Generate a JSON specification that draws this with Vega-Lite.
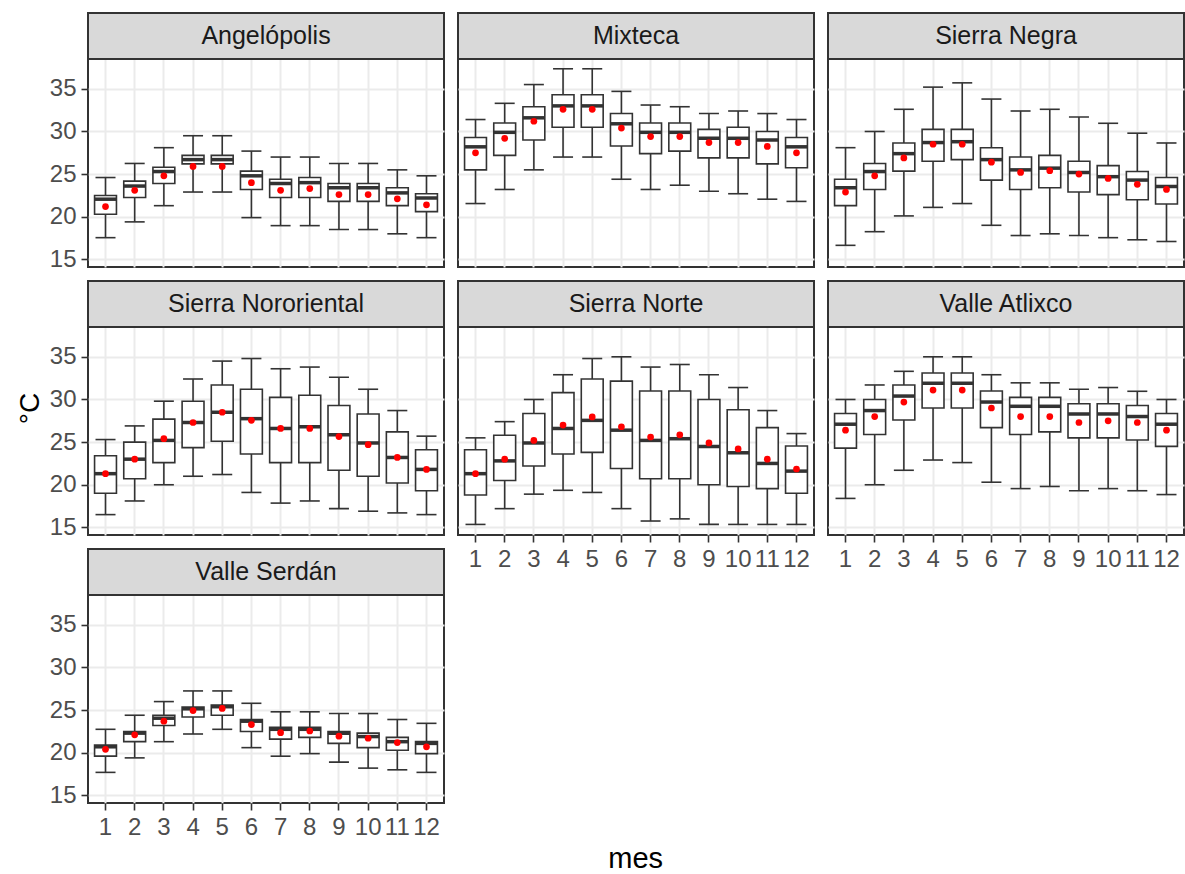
{
  "$schema": "https://vega.github.io/schema/vega-lite/v6.json",
  "padding": {"left": 15, "top": 11, "right": 0, "bottom": 0},
  "background": "white",
  "title": {"text": "mes", "orient": "bottom", "anchor": "middle", "frame": "bounds", "dx": 35, "fontSize": 29, "fontWeight": "normal", "font": "Liberation Sans", "color": "#000000", "offset": 5},
  "data": {"values": [
    {"region": "Angelópolis", "mes": 1, "min": 17.55, "q1": 20.3, "mediana": 22.06, "q3": 22.5, "max": 24.6, "media": 21.2},
    {"region": "Angelópolis", "mes": 2, "min": 19.4, "q1": 22.25, "mediana": 23.6, "q3": 24.18, "max": 26.25, "media": 23.1},
    {"region": "Angelópolis", "mes": 3, "min": 21.3, "q1": 23.9, "mediana": 25.3, "q3": 25.8, "max": 28.1, "media": 24.8},
    {"region": "Angelópolis", "mes": 4, "min": 22.9, "q1": 26.2, "mediana": 26.7, "q3": 27.2, "max": 29.5, "media": 25.9},
    {"region": "Angelópolis", "mes": 5, "min": 22.9, "q1": 26.2, "mediana": 26.7, "q3": 27.2, "max": 29.5, "media": 25.9},
    {"region": "Angelópolis", "mes": 6, "min": 19.9, "q1": 23.2, "mediana": 24.8, "q3": 25.35, "max": 27.7, "media": 24.0},
    {"region": "Angelópolis", "mes": 7, "min": 18.96, "q1": 22.25, "mediana": 23.9, "q3": 24.4, "max": 27.0, "media": 23.1},
    {"region": "Angelópolis", "mes": 8, "min": 18.96, "q1": 22.25, "mediana": 24.0, "q3": 24.6, "max": 27.0, "media": 23.3},
    {"region": "Angelópolis", "mes": 9, "min": 18.5, "q1": 21.8, "mediana": 23.4, "q3": 23.9, "max": 26.25, "media": 22.6},
    {"region": "Angelópolis", "mes": 10, "min": 18.5, "q1": 21.8, "mediana": 23.4, "q3": 23.9, "max": 26.25, "media": 22.6},
    {"region": "Angelópolis", "mes": 11, "min": 18.0, "q1": 21.3, "mediana": 22.8, "q3": 23.4, "max": 25.5, "media": 22.1},
    {"region": "Angelópolis", "mes": 12, "min": 17.55, "q1": 20.6, "mediana": 22.2, "q3": 22.7, "max": 24.8, "media": 21.4},
    {"region": "Mixteca", "mes": 1, "min": 21.55, "q1": 25.5, "mediana": 28.2, "q3": 29.3, "max": 31.4, "media": 27.5},
    {"region": "Mixteca", "mes": 2, "min": 23.2, "q1": 27.2, "mediana": 29.9, "q3": 31.0, "max": 33.3, "media": 29.2},
    {"region": "Mixteca", "mes": 3, "min": 25.5, "q1": 29.0, "mediana": 31.6, "q3": 32.9, "max": 35.5, "media": 31.2},
    {"region": "Mixteca", "mes": 4, "min": 27.0, "q1": 30.5, "mediana": 33.0, "q3": 34.3, "max": 37.35, "media": 32.6},
    {"region": "Mixteca", "mes": 5, "min": 27.0, "q1": 30.5, "mediana": 33.0, "q3": 34.3, "max": 37.35, "media": 32.6},
    {"region": "Mixteca", "mes": 6, "min": 24.4, "q1": 28.3, "mediana": 30.9, "q3": 32.1, "max": 34.7, "media": 30.4},
    {"region": "Mixteca", "mes": 7, "min": 23.2, "q1": 27.4, "mediana": 29.9, "q3": 31.0, "max": 33.1, "media": 29.4},
    {"region": "Mixteca", "mes": 8, "min": 23.7, "q1": 27.7, "mediana": 29.9, "q3": 31.0, "max": 32.9, "media": 29.4},
    {"region": "Mixteca", "mes": 9, "min": 23.0, "q1": 26.9, "mediana": 29.2, "q3": 30.25, "max": 32.1, "media": 28.7},
    {"region": "Mixteca", "mes": 10, "min": 22.7, "q1": 26.9, "mediana": 29.2, "q3": 30.5, "max": 32.4, "media": 28.7},
    {"region": "Mixteca", "mes": 11, "min": 22.06, "q1": 26.2, "mediana": 29.0, "q3": 30.0, "max": 32.1, "media": 28.25},
    {"region": "Mixteca", "mes": 12, "min": 21.8, "q1": 25.75, "mediana": 28.2, "q3": 29.3, "max": 31.4, "media": 27.5},
    {"region": "Sierra Negra", "mes": 1, "min": 16.65, "q1": 21.3, "mediana": 23.4, "q3": 24.4, "max": 28.1, "media": 22.9},
    {"region": "Sierra Negra", "mes": 2, "min": 18.25, "q1": 23.2, "mediana": 25.3, "q3": 26.25, "max": 30.0, "media": 24.8},
    {"region": "Sierra Negra", "mes": 3, "min": 20.1, "q1": 25.35, "mediana": 27.4, "q3": 28.65, "max": 32.6, "media": 26.9},
    {"region": "Sierra Negra", "mes": 4, "min": 21.1, "q1": 26.5, "mediana": 28.7, "q3": 30.25, "max": 35.2, "media": 28.5},
    {"region": "Sierra Negra", "mes": 5, "min": 21.55, "q1": 26.7, "mediana": 28.8, "q3": 30.25, "max": 35.7, "media": 28.5},
    {"region": "Sierra Negra", "mes": 6, "min": 19.0, "q1": 24.3, "mediana": 26.7, "q3": 28.1, "max": 33.8, "media": 26.4},
    {"region": "Sierra Negra", "mes": 7, "min": 17.8, "q1": 23.2, "mediana": 25.5, "q3": 27.0, "max": 32.4, "media": 25.2},
    {"region": "Sierra Negra", "mes": 8, "min": 18.0, "q1": 23.4, "mediana": 25.7, "q3": 27.2, "max": 32.6, "media": 25.4},
    {"region": "Sierra Negra", "mes": 9, "min": 17.8, "q1": 22.9, "mediana": 25.2, "q3": 26.5, "max": 31.7, "media": 25.0},
    {"region": "Sierra Negra", "mes": 10, "min": 17.55, "q1": 22.6, "mediana": 24.7, "q3": 26.0, "max": 30.96, "media": 24.5},
    {"region": "Sierra Negra", "mes": 11, "min": 17.3, "q1": 22.0, "mediana": 24.3, "q3": 25.3, "max": 29.8, "media": 23.8},
    {"region": "Sierra Negra", "mes": 12, "min": 17.1, "q1": 21.5, "mediana": 23.55, "q3": 24.6, "max": 28.65, "media": 23.2},
    {"region": "Sierra Nororiental", "mes": 1, "min": 16.5, "q1": 19.0, "mediana": 21.3, "q3": 23.4, "max": 25.3, "media": 21.3},
    {"region": "Sierra Nororiental", "mes": 2, "min": 18.1, "q1": 20.7, "mediana": 23.0, "q3": 25.0, "max": 26.9, "media": 23.0},
    {"region": "Sierra Nororiental", "mes": 3, "min": 20.0, "q1": 22.6, "mediana": 25.2, "q3": 27.7, "max": 29.8, "media": 25.4},
    {"region": "Sierra Nororiental", "mes": 4, "min": 21.0, "q1": 24.35, "mediana": 27.3, "q3": 29.8, "max": 32.4, "media": 27.3},
    {"region": "Sierra Nororiental", "mes": 5, "min": 21.2, "q1": 25.1, "mediana": 28.5, "q3": 31.7, "max": 34.5, "media": 28.5},
    {"region": "Sierra Nororiental", "mes": 6, "min": 19.1, "q1": 23.6, "mediana": 27.75, "q3": 31.2, "max": 34.8, "media": 27.55},
    {"region": "Sierra Nororiental", "mes": 7, "min": 17.85, "q1": 22.6, "mediana": 26.6, "q3": 30.25, "max": 33.6, "media": 26.6},
    {"region": "Sierra Nororiental", "mes": 8, "min": 18.1, "q1": 22.6, "mediana": 26.8, "q3": 30.5, "max": 33.8, "media": 26.6},
    {"region": "Sierra Nororiental", "mes": 9, "min": 17.2, "q1": 21.7, "mediana": 25.85, "q3": 29.3, "max": 32.6, "media": 25.65},
    {"region": "Sierra Nororiental", "mes": 10, "min": 16.9, "q1": 21.0, "mediana": 24.9, "q3": 28.3, "max": 31.2, "media": 24.7},
    {"region": "Sierra Nororiental", "mes": 11, "min": 16.7, "q1": 20.2, "mediana": 23.2, "q3": 26.2, "max": 28.7, "media": 23.2},
    {"region": "Sierra Nororiental", "mes": 12, "min": 16.5, "q1": 19.3, "mediana": 21.8, "q3": 24.1, "max": 25.7, "media": 21.8},
    {"region": "Sierra Norte", "mes": 1, "min": 15.35, "q1": 18.8, "mediana": 21.3, "q3": 24.1, "max": 25.5, "media": 21.3},
    {"region": "Sierra Norte", "mes": 2, "min": 17.2, "q1": 20.5, "mediana": 22.8, "q3": 25.8, "max": 27.4, "media": 23.0},
    {"region": "Sierra Norte", "mes": 3, "min": 18.9, "q1": 22.2, "mediana": 24.9, "q3": 28.35, "max": 30.0, "media": 25.2},
    {"region": "Sierra Norte", "mes": 4, "min": 19.35, "q1": 23.6, "mediana": 26.6, "q3": 30.8, "max": 32.9, "media": 27.0},
    {"region": "Sierra Norte", "mes": 5, "min": 19.1, "q1": 23.8, "mediana": 27.55, "q3": 32.4, "max": 34.8, "media": 27.95},
    {"region": "Sierra Norte", "mes": 6, "min": 17.2, "q1": 21.9, "mediana": 26.4, "q3": 32.15, "max": 35.0, "media": 26.8},
    {"region": "Sierra Norte", "mes": 7, "min": 15.75, "q1": 20.7, "mediana": 25.2, "q3": 31.0, "max": 33.8, "media": 25.6},
    {"region": "Sierra Norte", "mes": 8, "min": 16.0, "q1": 20.7, "mediana": 25.4, "q3": 31.0, "max": 34.1, "media": 25.85},
    {"region": "Sierra Norte", "mes": 9, "min": 15.35, "q1": 20.0, "mediana": 24.5, "q3": 30.0, "max": 32.9, "media": 24.9},
    {"region": "Sierra Norte", "mes": 10, "min": 15.35, "q1": 19.8, "mediana": 23.75, "q3": 28.8, "max": 31.4, "media": 24.2},
    {"region": "Sierra Norte", "mes": 11, "min": 15.35, "q1": 19.55, "mediana": 22.5, "q3": 26.7, "max": 28.7, "media": 23.0},
    {"region": "Sierra Norte", "mes": 12, "min": 15.35, "q1": 19.0, "mediana": 21.6, "q3": 24.55, "max": 26.0, "media": 21.85},
    {"region": "Valle Atlixco", "mes": 1, "min": 18.4, "q1": 24.3, "mediana": 27.1, "q3": 28.35, "max": 30.0, "media": 26.4},
    {"region": "Valle Atlixco", "mes": 2, "min": 20.0, "q1": 25.9, "mediana": 28.7, "q3": 30.0, "max": 31.7, "media": 28.0},
    {"region": "Valle Atlixco", "mes": 3, "min": 21.7, "q1": 27.6, "mediana": 30.4, "q3": 31.7, "max": 33.3, "media": 29.7},
    {"region": "Valle Atlixco", "mes": 4, "min": 22.9, "q1": 29.0, "mediana": 31.9, "q3": 33.1, "max": 35.0, "media": 31.1},
    {"region": "Valle Atlixco", "mes": 5, "min": 22.6, "q1": 29.0, "mediana": 31.9, "q3": 33.1, "max": 35.0, "media": 31.1},
    {"region": "Valle Atlixco", "mes": 6, "min": 20.3, "q1": 26.7, "mediana": 29.7, "q3": 31.0, "max": 32.9, "media": 29.0},
    {"region": "Valle Atlixco", "mes": 7, "min": 19.55, "q1": 25.9, "mediana": 29.2, "q3": 30.25, "max": 31.95, "media": 28.0},
    {"region": "Valle Atlixco", "mes": 8, "min": 19.8, "q1": 26.2, "mediana": 29.2, "q3": 30.25, "max": 31.95, "media": 28.0},
    {"region": "Valle Atlixco", "mes": 9, "min": 19.3, "q1": 25.5, "mediana": 28.3, "q3": 29.5, "max": 31.2, "media": 27.3},
    {"region": "Valle Atlixco", "mes": 10, "min": 19.55, "q1": 25.5, "mediana": 28.3, "q3": 29.5, "max": 31.4, "media": 27.5},
    {"region": "Valle Atlixco", "mes": 11, "min": 19.3, "q1": 25.25, "mediana": 28.0, "q3": 29.3, "max": 30.96, "media": 27.3},
    {"region": "Valle Atlixco", "mes": 12, "min": 18.85, "q1": 24.5, "mediana": 27.1, "q3": 28.35, "max": 30.0, "media": 26.4},
    {"region": "Valle Serdán", "mes": 1, "min": 17.7, "q1": 19.6, "mediana": 20.7, "q3": 20.9, "max": 22.75, "media": 20.4},
    {"region": "Valle Serdán", "mes": 2, "min": 19.4, "q1": 21.3, "mediana": 22.3, "q3": 22.5, "max": 24.4, "media": 22.1},
    {"region": "Valle Serdán", "mes": 3, "min": 21.3, "q1": 23.2, "mediana": 24.05, "q3": 24.4, "max": 26.0, "media": 23.7},
    {"region": "Valle Serdán", "mes": 4, "min": 22.2, "q1": 24.2, "mediana": 25.15, "q3": 25.35, "max": 27.25, "media": 24.95},
    {"region": "Valle Serdán", "mes": 5, "min": 22.75, "q1": 24.4, "mediana": 25.4, "q3": 25.6, "max": 27.25, "media": 25.2},
    {"region": "Valle Serdán", "mes": 6, "min": 20.6, "q1": 22.5, "mediana": 23.7, "q3": 23.9, "max": 25.8, "media": 23.3},
    {"region": "Valle Serdán", "mes": 7, "min": 19.6, "q1": 21.6, "mediana": 22.75, "q3": 23.0, "max": 24.8, "media": 22.35},
    {"region": "Valle Serdán", "mes": 8, "min": 19.9, "q1": 21.8, "mediana": 22.75, "q3": 23.0, "max": 24.8, "media": 22.55},
    {"region": "Valle Serdán", "mes": 9, "min": 18.9, "q1": 21.1, "mediana": 22.3, "q3": 22.5, "max": 24.6, "media": 21.95},
    {"region": "Valle Serdán", "mes": 10, "min": 18.2, "q1": 20.6, "mediana": 21.9, "q3": 22.3, "max": 24.6, "media": 21.7},
    {"region": "Valle Serdán", "mes": 11, "min": 18.0, "q1": 20.3, "mediana": 21.3, "q3": 21.8, "max": 23.9, "media": 21.2},
    {"region": "Valle Serdán", "mes": 12, "min": 17.7, "q1": 19.9, "mediana": 21.1, "q3": 21.3, "max": 23.45, "media": 20.7}
  ]},
  "columns": 3,
  "spacing": {"row": 14, "column": 14},
  "bounds": "flush",
  "align": "all",
  "concat": [
    {
      "width": 356, "height": 254,
      "transform": [{"filter": "datum.region == 'Angelópolis'"}],
      "layer": [
        {"transform": [{"filter": "datum.mes == 1"}], "mark": {"type": "rect", "fill": "#D9D9D9", "stroke": "#333333", "strokeWidth": 2}, "encoding": {"y": {"datum": 38.49, "type": "quantitative"}, "y2": {"datum": 43.89}}},
        {"transform": [{"filter": "datum.mes == 1"}], "mark": {"type": "text", "fontSize": 25, "color": "#1A1A1A", "baseline": "middle", "align": "center"}, "encoding": {"text": {"field": "region"}, "y": {"datum": 41.15, "type": "quantitative"}}},
        {"mark": {"type": "rule", "color": "#333333", "strokeWidth": 1.6},
         "encoding": {
           "x": {"field": "mes", "type": "ordinal", "title": null, "scale": {"paddingInner": 0, "paddingOuter": 0.1}, "axis": {"labels": false, "ticks": false}},
           "y": {"field": "min", "type": "quantitative", "title": null, "scale": {"domain": [14.11, 43.89], "nice": false, "zero": false},
                 "axis": {"values": [15, 17.5, 20, 22.5, 25, 27.5, 30, 32.5, 35, 37.5], "labelExpr": "datum.value % 5 === 0 ? format(datum.value, 'd') : ''", "tickSize": {"condition": {"test": "datum.value % 5 !== 0", "value": 0}, "value": 7}, "gridWidth": {"condition": {"test": "datum.value % 5 !== 0", "value": 1}, "value": 2}}},
           "y2": {"field": "max"}}},
        {"mark": {"type": "tick", "color": "#333333", "opacity": 1, "size": 20, "thickness": 1.6}, "encoding": {"x": {"field": "mes", "type": "ordinal"}, "y": {"field": "min", "type": "quantitative"}}},
        {"mark": {"type": "tick", "color": "#333333", "opacity": 1, "size": 20, "thickness": 1.6}, "encoding": {"x": {"field": "mes", "type": "ordinal"}, "y": {"field": "max", "type": "quantitative"}}},
        {"mark": {"type": "bar", "fill": "#FFFFFF", "stroke": "#333333", "strokeWidth": 1.6, "width": {"band": 0.75}}, "encoding": {"x": {"field": "mes", "type": "ordinal"}, "y": {"field": "q1", "type": "quantitative"}, "y2": {"field": "q3"}}},
        {"mark": {"type": "tick", "color": "#333333", "opacity": 1, "size": 22, "thickness": 3.5}, "encoding": {"x": {"field": "mes", "type": "ordinal"}, "y": {"field": "mediana", "type": "quantitative"}}},
        {"mark": {"type": "circle", "color": "#FF0000", "opacity": 1, "size": 45}, "encoding": {"x": {"field": "mes", "type": "ordinal"}, "y": {"field": "media", "type": "quantitative"}}}
      ]
    },
    {
      "width": 356, "height": 254,
      "transform": [{"filter": "datum.region == 'Mixteca'"}],
      "layer": [
        {"transform": [{"filter": "datum.mes == 1"}], "mark": {"type": "rect", "fill": "#D9D9D9", "stroke": "#333333", "strokeWidth": 2}, "encoding": {"y": {"datum": 38.49, "type": "quantitative"}, "y2": {"datum": 43.89}}},
        {"transform": [{"filter": "datum.mes == 1"}], "mark": {"type": "text", "fontSize": 25, "color": "#1A1A1A", "baseline": "middle", "align": "center"}, "encoding": {"text": {"field": "region"}, "y": {"datum": 41.15, "type": "quantitative"}}},
        {"mark": {"type": "rule", "color": "#333333", "strokeWidth": 1.6},
         "encoding": {
           "x": {"field": "mes", "type": "ordinal", "title": null, "scale": {"paddingInner": 0, "paddingOuter": 0.1}, "axis": {"labels": false, "ticks": false}},
           "y": {"field": "min", "type": "quantitative", "title": null, "scale": {"domain": [14.11, 43.89], "nice": false, "zero": false},
                 "axis": {"values": [15, 17.5, 20, 22.5, 25, 27.5, 30, 32.5, 35, 37.5], "labels": false, "ticks": false, "gridWidth": {"condition": {"test": "datum.value % 5 !== 0", "value": 1}, "value": 2}}},
           "y2": {"field": "max"}}},
        {"mark": {"type": "tick", "color": "#333333", "opacity": 1, "size": 20, "thickness": 1.6}, "encoding": {"x": {"field": "mes", "type": "ordinal"}, "y": {"field": "min", "type": "quantitative"}}},
        {"mark": {"type": "tick", "color": "#333333", "opacity": 1, "size": 20, "thickness": 1.6}, "encoding": {"x": {"field": "mes", "type": "ordinal"}, "y": {"field": "max", "type": "quantitative"}}},
        {"mark": {"type": "bar", "fill": "#FFFFFF", "stroke": "#333333", "strokeWidth": 1.6, "width": {"band": 0.75}}, "encoding": {"x": {"field": "mes", "type": "ordinal"}, "y": {"field": "q1", "type": "quantitative"}, "y2": {"field": "q3"}}},
        {"mark": {"type": "tick", "color": "#333333", "opacity": 1, "size": 22, "thickness": 3.5}, "encoding": {"x": {"field": "mes", "type": "ordinal"}, "y": {"field": "mediana", "type": "quantitative"}}},
        {"mark": {"type": "circle", "color": "#FF0000", "opacity": 1, "size": 45}, "encoding": {"x": {"field": "mes", "type": "ordinal"}, "y": {"field": "media", "type": "quantitative"}}}
      ]
    },
    {
      "width": 356, "height": 254,
      "transform": [{"filter": "datum.region == 'Sierra Negra'"}],
      "layer": [
        {"transform": [{"filter": "datum.mes == 1"}], "mark": {"type": "rect", "fill": "#D9D9D9", "stroke": "#333333", "strokeWidth": 2}, "encoding": {"y": {"datum": 38.49, "type": "quantitative"}, "y2": {"datum": 43.89}}},
        {"transform": [{"filter": "datum.mes == 1"}], "mark": {"type": "text", "fontSize": 25, "color": "#1A1A1A", "baseline": "middle", "align": "center"}, "encoding": {"text": {"field": "region"}, "y": {"datum": 41.15, "type": "quantitative"}}},
        {"mark": {"type": "rule", "color": "#333333", "strokeWidth": 1.6},
         "encoding": {
           "x": {"field": "mes", "type": "ordinal", "title": null, "scale": {"paddingInner": 0, "paddingOuter": 0.1}, "axis": {"labels": false, "ticks": false}},
           "y": {"field": "min", "type": "quantitative", "title": null, "scale": {"domain": [14.11, 43.89], "nice": false, "zero": false},
                 "axis": {"values": [15, 17.5, 20, 22.5, 25, 27.5, 30, 32.5, 35, 37.5], "labels": false, "ticks": false, "gridWidth": {"condition": {"test": "datum.value % 5 !== 0", "value": 1}, "value": 2}}},
           "y2": {"field": "max"}}},
        {"mark": {"type": "tick", "color": "#333333", "opacity": 1, "size": 20, "thickness": 1.6}, "encoding": {"x": {"field": "mes", "type": "ordinal"}, "y": {"field": "min", "type": "quantitative"}}},
        {"mark": {"type": "tick", "color": "#333333", "opacity": 1, "size": 20, "thickness": 1.6}, "encoding": {"x": {"field": "mes", "type": "ordinal"}, "y": {"field": "max", "type": "quantitative"}}},
        {"mark": {"type": "bar", "fill": "#FFFFFF", "stroke": "#333333", "strokeWidth": 1.6, "width": {"band": 0.75}}, "encoding": {"x": {"field": "mes", "type": "ordinal"}, "y": {"field": "q1", "type": "quantitative"}, "y2": {"field": "q3"}}},
        {"mark": {"type": "tick", "color": "#333333", "opacity": 1, "size": 22, "thickness": 3.5}, "encoding": {"x": {"field": "mes", "type": "ordinal"}, "y": {"field": "mediana", "type": "quantitative"}}},
        {"mark": {"type": "circle", "color": "#FF0000", "opacity": 1, "size": 45}, "encoding": {"x": {"field": "mes", "type": "ordinal"}, "y": {"field": "media", "type": "quantitative"}}}
      ]
    },
    {
      "width": 356, "height": 254,
      "transform": [{"filter": "datum.region == 'Sierra Nororiental'"}],
      "layer": [
        {"transform": [{"filter": "datum.mes == 1"}], "mark": {"type": "rect", "fill": "#D9D9D9", "stroke": "#333333", "strokeWidth": 2}, "encoding": {"y": {"datum": 38.49, "type": "quantitative"}, "y2": {"datum": 43.89}}},
        {"transform": [{"filter": "datum.mes == 1"}], "mark": {"type": "text", "fontSize": 25, "color": "#1A1A1A", "baseline": "middle", "align": "center"}, "encoding": {"text": {"field": "region"}, "y": {"datum": 41.15, "type": "quantitative"}}},
        {"mark": {"type": "rule", "color": "#333333", "strokeWidth": 1.6},
         "encoding": {
           "x": {"field": "mes", "type": "ordinal", "title": null, "scale": {"paddingInner": 0, "paddingOuter": 0.1}, "axis": {"labels": false, "ticks": false}},
           "y": {"field": "min", "type": "quantitative", "title": "°C", "scale": {"domain": [14.11, 43.89], "nice": false, "zero": false},
                 "axis": {"values": [15, 17.5, 20, 22.5, 25, 27.5, 30, 32.5, 35, 37.5], "labelExpr": "datum.value % 5 === 0 ? format(datum.value, 'd') : ''", "tickSize": {"condition": {"test": "datum.value % 5 !== 0", "value": 0}, "value": 7}, "gridWidth": {"condition": {"test": "datum.value % 5 !== 0", "value": 1}, "value": 2},
                          "titleFontSize": 28, "titleFontWeight": "normal", "titleColor": "#000000", "titlePadding": 5}},
           "y2": {"field": "max"}}},
        {"mark": {"type": "tick", "color": "#333333", "opacity": 1, "size": 20, "thickness": 1.6}, "encoding": {"x": {"field": "mes", "type": "ordinal"}, "y": {"field": "min", "type": "quantitative"}}},
        {"mark": {"type": "tick", "color": "#333333", "opacity": 1, "size": 20, "thickness": 1.6}, "encoding": {"x": {"field": "mes", "type": "ordinal"}, "y": {"field": "max", "type": "quantitative"}}},
        {"mark": {"type": "bar", "fill": "#FFFFFF", "stroke": "#333333", "strokeWidth": 1.6, "width": {"band": 0.75}}, "encoding": {"x": {"field": "mes", "type": "ordinal"}, "y": {"field": "q1", "type": "quantitative"}, "y2": {"field": "q3"}}},
        {"mark": {"type": "tick", "color": "#333333", "opacity": 1, "size": 22, "thickness": 3.5}, "encoding": {"x": {"field": "mes", "type": "ordinal"}, "y": {"field": "mediana", "type": "quantitative"}}},
        {"mark": {"type": "circle", "color": "#FF0000", "opacity": 1, "size": 45}, "encoding": {"x": {"field": "mes", "type": "ordinal"}, "y": {"field": "media", "type": "quantitative"}}}
      ]
    },
    {
      "width": 356, "height": 254,
      "transform": [{"filter": "datum.region == 'Sierra Norte'"}],
      "layer": [
        {"transform": [{"filter": "datum.mes == 1"}], "mark": {"type": "rect", "fill": "#D9D9D9", "stroke": "#333333", "strokeWidth": 2}, "encoding": {"y": {"datum": 38.49, "type": "quantitative"}, "y2": {"datum": 43.89}}},
        {"transform": [{"filter": "datum.mes == 1"}], "mark": {"type": "text", "fontSize": 25, "color": "#1A1A1A", "baseline": "middle", "align": "center"}, "encoding": {"text": {"field": "region"}, "y": {"datum": 41.15, "type": "quantitative"}}},
        {"mark": {"type": "rule", "color": "#333333", "strokeWidth": 1.6},
         "encoding": {
           "x": {"field": "mes", "type": "ordinal", "title": null, "scale": {"paddingInner": 0, "paddingOuter": 0.1}},
           "y": {"field": "min", "type": "quantitative", "title": null, "scale": {"domain": [14.11, 43.89], "nice": false, "zero": false},
                 "axis": {"values": [15, 17.5, 20, 22.5, 25, 27.5, 30, 32.5, 35, 37.5], "labels": false, "ticks": false, "gridWidth": {"condition": {"test": "datum.value % 5 !== 0", "value": 1}, "value": 2}}},
           "y2": {"field": "max"}}},
        {"mark": {"type": "tick", "color": "#333333", "opacity": 1, "size": 20, "thickness": 1.6}, "encoding": {"x": {"field": "mes", "type": "ordinal"}, "y": {"field": "min", "type": "quantitative"}}},
        {"mark": {"type": "tick", "color": "#333333", "opacity": 1, "size": 20, "thickness": 1.6}, "encoding": {"x": {"field": "mes", "type": "ordinal"}, "y": {"field": "max", "type": "quantitative"}}},
        {"mark": {"type": "bar", "fill": "#FFFFFF", "stroke": "#333333", "strokeWidth": 1.6, "width": {"band": 0.75}}, "encoding": {"x": {"field": "mes", "type": "ordinal"}, "y": {"field": "q1", "type": "quantitative"}, "y2": {"field": "q3"}}},
        {"mark": {"type": "tick", "color": "#333333", "opacity": 1, "size": 22, "thickness": 3.5}, "encoding": {"x": {"field": "mes", "type": "ordinal"}, "y": {"field": "mediana", "type": "quantitative"}}},
        {"mark": {"type": "circle", "color": "#FF0000", "opacity": 1, "size": 45}, "encoding": {"x": {"field": "mes", "type": "ordinal"}, "y": {"field": "media", "type": "quantitative"}}}
      ]
    },
    {
      "width": 356, "height": 254,
      "transform": [{"filter": "datum.region == 'Valle Atlixco'"}],
      "layer": [
        {"transform": [{"filter": "datum.mes == 1"}], "mark": {"type": "rect", "fill": "#D9D9D9", "stroke": "#333333", "strokeWidth": 2}, "encoding": {"y": {"datum": 38.49, "type": "quantitative"}, "y2": {"datum": 43.89}}},
        {"transform": [{"filter": "datum.mes == 1"}], "mark": {"type": "text", "fontSize": 25, "color": "#1A1A1A", "baseline": "middle", "align": "center"}, "encoding": {"text": {"field": "region"}, "y": {"datum": 41.15, "type": "quantitative"}}},
        {"mark": {"type": "rule", "color": "#333333", "strokeWidth": 1.6},
         "encoding": {
           "x": {"field": "mes", "type": "ordinal", "title": null, "scale": {"paddingInner": 0, "paddingOuter": 0.1}},
           "y": {"field": "min", "type": "quantitative", "title": null, "scale": {"domain": [14.11, 43.89], "nice": false, "zero": false},
                 "axis": {"values": [15, 17.5, 20, 22.5, 25, 27.5, 30, 32.5, 35, 37.5], "labels": false, "ticks": false, "gridWidth": {"condition": {"test": "datum.value % 5 !== 0", "value": 1}, "value": 2}}},
           "y2": {"field": "max"}}},
        {"mark": {"type": "tick", "color": "#333333", "opacity": 1, "size": 20, "thickness": 1.6}, "encoding": {"x": {"field": "mes", "type": "ordinal"}, "y": {"field": "min", "type": "quantitative"}}},
        {"mark": {"type": "tick", "color": "#333333", "opacity": 1, "size": 20, "thickness": 1.6}, "encoding": {"x": {"field": "mes", "type": "ordinal"}, "y": {"field": "max", "type": "quantitative"}}},
        {"mark": {"type": "bar", "fill": "#FFFFFF", "stroke": "#333333", "strokeWidth": 1.6, "width": {"band": 0.75}}, "encoding": {"x": {"field": "mes", "type": "ordinal"}, "y": {"field": "q1", "type": "quantitative"}, "y2": {"field": "q3"}}},
        {"mark": {"type": "tick", "color": "#333333", "opacity": 1, "size": 22, "thickness": 3.5}, "encoding": {"x": {"field": "mes", "type": "ordinal"}, "y": {"field": "mediana", "type": "quantitative"}}},
        {"mark": {"type": "circle", "color": "#FF0000", "opacity": 1, "size": 45}, "encoding": {"x": {"field": "mes", "type": "ordinal"}, "y": {"field": "media", "type": "quantitative"}}}
      ]
    },
    {
      "width": 356, "height": 254,
      "transform": [{"filter": "datum.region == 'Valle Serdán'"}],
      "layer": [
        {"transform": [{"filter": "datum.mes == 1"}], "mark": {"type": "rect", "fill": "#D9D9D9", "stroke": "#333333", "strokeWidth": 2}, "encoding": {"y": {"datum": 38.49, "type": "quantitative"}, "y2": {"datum": 43.89}}},
        {"transform": [{"filter": "datum.mes == 1"}], "mark": {"type": "text", "fontSize": 25, "color": "#1A1A1A", "baseline": "middle", "align": "center"}, "encoding": {"text": {"field": "region"}, "y": {"datum": 41.15, "type": "quantitative"}}},
        {"mark": {"type": "rule", "color": "#333333", "strokeWidth": 1.6},
         "encoding": {
           "x": {"field": "mes", "type": "ordinal", "title": null, "scale": {"paddingInner": 0, "paddingOuter": 0.1}},
           "y": {"field": "min", "type": "quantitative", "title": null, "scale": {"domain": [14.11, 43.89], "nice": false, "zero": false},
                 "axis": {"values": [15, 17.5, 20, 22.5, 25, 27.5, 30, 32.5, 35, 37.5], "labelExpr": "datum.value % 5 === 0 ? format(datum.value, 'd') : ''", "tickSize": {"condition": {"test": "datum.value % 5 !== 0", "value": 0}, "value": 7}, "gridWidth": {"condition": {"test": "datum.value % 5 !== 0", "value": 1}, "value": 2}}},
           "y2": {"field": "max"}}},
        {"mark": {"type": "tick", "color": "#333333", "opacity": 1, "size": 20, "thickness": 1.6}, "encoding": {"x": {"field": "mes", "type": "ordinal"}, "y": {"field": "min", "type": "quantitative"}}},
        {"mark": {"type": "tick", "color": "#333333", "opacity": 1, "size": 20, "thickness": 1.6}, "encoding": {"x": {"field": "mes", "type": "ordinal"}, "y": {"field": "max", "type": "quantitative"}}},
        {"mark": {"type": "bar", "fill": "#FFFFFF", "stroke": "#333333", "strokeWidth": 1.6, "width": {"band": 0.75}}, "encoding": {"x": {"field": "mes", "type": "ordinal"}, "y": {"field": "q1", "type": "quantitative"}, "y2": {"field": "q3"}}},
        {"mark": {"type": "tick", "color": "#333333", "opacity": 1, "size": 22, "thickness": 3.5}, "encoding": {"x": {"field": "mes", "type": "ordinal"}, "y": {"field": "mediana", "type": "quantitative"}}},
        {"mark": {"type": "circle", "color": "#FF0000", "opacity": 1, "size": 45}, "encoding": {"x": {"field": "mes", "type": "ordinal"}, "y": {"field": "media", "type": "quantitative"}}}
      ]
    }
  ],
  "config": {
    "view": {"stroke": "#333333", "strokeWidth": 2},
    "font": "Liberation Sans",
    "axis": {"domain": false, "grid": true, "gridColor": "#EBEBEB", "labelFont": "Liberation Sans", "labelFontSize": 24, "labelColor": "#4D4D4D", "tickColor": "#333333", "tickWidth": 1.6, "tickSize": 7, "labelPadding": 5, "titleFont": "Liberation Sans"},
    "axisX": {"labelAngle": 0, "bandPosition": 0.5, "gridWidth": 2}
  }
}
